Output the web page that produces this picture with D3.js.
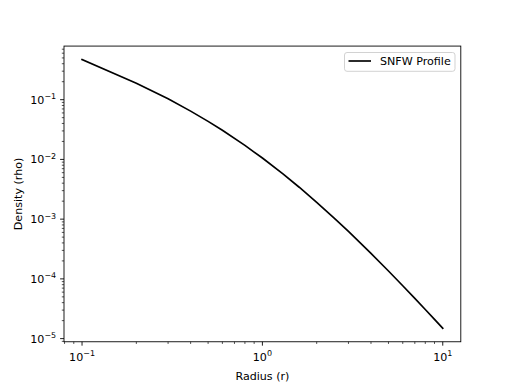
<!DOCTYPE html>
<html><head><meta charset="utf-8">
<script src="https://cdn.jsdelivr.net/npm/d3@7"></script>
<style>body{margin:0;background:#fff}text{font-family:"DejaVu Sans",sans-serif;}</style>
</head><body><svg id="c" width="512" height="384"></svg>
<script>
const radius = [0.1,0.2,0.3,0.4,0.5,0.6,0.8,1.0,1.3,1.6,2,2.5,3,4,5,6,7,8,9,10];
const density = [0.4703,0.18917,0.10324,0.064336,0.043314,0.030717,0.017162,0.010550,0.0057222,0.0034220,0.0019142,0.0010416,0.00062167,0.00026690,0.00013536,7.6724e-5,4.7099e-5,3.0700e-5,2.0970e-5,1.4871e-5];
const xMajor = [-1,0,1];
const yMajor = [-5,-4,-3,-2,-1];
const seriesName = "SNFW Profile";

const svg = d3.select("#c");
const L=64,R=460.8,T=46.08,B=341.76;
const lx=d3.extent(radius).map(Math.log10), ly=d3.extent(density).map(Math.log10);
const mx=(lx[1]-lx[0])*0.05, my=(ly[1]-ly[0])*0.05;
const x=d3.scaleLog().domain([10**(lx[0]-mx),10**(lx[1]+mx)]).range([L,R]);
const y=d3.scaleLog().domain([10**(ly[0]-my),10**(ly[1]+my)]).range([B,T]);
const fs=11.1, tl=3.9, tlm=2.2, pad=3.9;

function inD(s,v){const d=s.domain();return v>=d[0]*0.9999&&v<=d[1]*1.0001;}
function minors(s){const out=[];const d=s.domain();for(let e=Math.floor(Math.log10(d[0]));e<=Math.ceil(Math.log10(d[1]));e++){for(let k=2;k<=9;k++){const v=k*10**e;if(inD(s,v))out.push(v);}}return out;}

const g=svg.append("g");
// line
g.append("path").datum(radius.map((r,i)=>[r,density[i]]))
 .attr("d",d3.line().x(d=>x(d[0])).y(d=>y(d[1])))
 .attr("fill","none").attr("stroke","#000").attr("stroke-width",1.67).attr("stroke-linejoin","round").attr("stroke-linecap","square");

// ticks
minors(x).forEach(v=>g.append("line").attr("x1",x(v)).attr("x2",x(v)).attr("y1",B).attr("y2",B+tlm).attr("stroke","#000").attr("stroke-width",0.67));
minors(y).forEach(v=>g.append("line").attr("y1",y(v)).attr("y2",y(v)).attr("x1",L).attr("x2",L-tlm).attr("stroke","#000").attr("stroke-width",0.67));
function label(sel,e,anchor){
  sel.attr("text-anchor",anchor).attr("font-size",fs).attr("fill","#000");
  sel.append("tspan").text("10");
  sel.append("tspan").attr("dy",-4.5).attr("font-size",fs*0.72).text(e<0?"\u2212"+(-e):String(e));
}
xMajor.forEach(e=>{const v=10**e,px=x(v);
  g.append("line").attr("x1",px).attr("x2",px).attr("y1",B).attr("y2",B+tl).attr("stroke","#000").attr("stroke-width",0.89);
  label(g.append("text").attr("x",px).attr("y",B+tl+pad+11),e,"middle");
});
yMajor.forEach(e=>{const v=10**e,py=y(v);
  g.append("line").attr("y1",py).attr("y2",py).attr("x1",L).attr("x2",L-tl).attr("stroke","#000").attr("stroke-width",0.89);
  label(g.append("text").attr("x",L-tl-pad).attr("y",py+4),e,"end");
});
// frame
g.append("rect").attr("x",L).attr("y",T).attr("width",R-L).attr("height",B-T).attr("fill","none").attr("stroke","#000").attr("stroke-width",0.89);
// axis labels
g.append("text").attr("x",(L+R)/2).attr("y",379.5).attr("text-anchor","middle").attr("font-size",fs).text("Radius (r)");
g.append("text").attr("transform",`translate(22,${(T+B)/2}) rotate(-90)`).attr("text-anchor","middle").attr("font-size",fs).text("Density (rho)");
// legend
const lg=g.append("g");
lg.append("rect").attr("x",344.5).attr("y",52.5).attr("width",110.5).attr("height",18.8).attr("rx",2.5).attr("fill","#fff").attr("fill-opacity",0.8).attr("stroke","#ccc").attr("stroke-width",0.89);
lg.append("line").attr("x1",348.5).attr("x2",371).attr("y1",61).attr("y2",61).attr("stroke","#000").attr("stroke-width",1.67);
lg.append("text").attr("x",380).attr("y",65).attr("font-size",fs).text(seriesName);
</script></body></html>
